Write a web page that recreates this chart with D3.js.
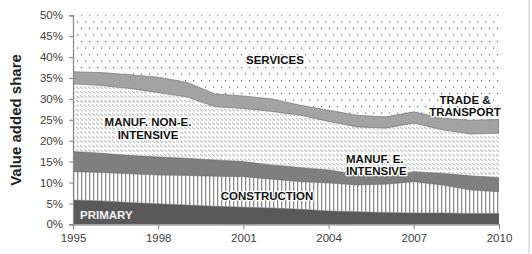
<!DOCTYPE html>
<html>
<head>
<meta charset="utf-8">
<script src="https://cdn.jsdelivr.net/npm/d3@7"></script>
<style>
  body { margin: 0; background: #fff; }
  svg { display: block; font-family: "Liberation Sans", Arial, sans-serif; }
</style>
</head>
<body>
<svg id="chart"></svg>
<script>
var width = 532;
var height = 254;

// value added shares (%)
var years = [1995, 1996, 1997, 1998, 1999, 2000, 2001, 2002, 2003, 2004, 2005, 2006, 2007, 2008, 2009, 2010];
var primary = [5.8, 5.6, 5.2, 4.9, 4.6, 4.3, 4.1, 3.9, 3.6, 3.2, 3.0, 2.8, 2.7, 2.7, 2.6, 2.6];
var construction = [6.8, 6.8, 6.9, 6.9, 7.1, 7.2, 7.3, 6.9, 6.6, 6.7, 6.4, 6.8, 7.5, 6.7, 5.6, 5.2];
var manufE = [4.8, 4.6, 4.4, 4.3, 4.1, 3.9, 3.6, 3.4, 3.4, 3.1, 2.6, 1.8, 2.4, 2.8, 3.4, 3.4];
var manufNonE = [16.2, 16.2, 16.0, 15.4, 14.7, 12.7, 12.7, 12.8, 12.5, 11.6, 11.3, 11.6, 11.6, 10.4, 10.0, 10.6];
var trade = [2.9, 3.1, 3.3, 3.7, 3.5, 3.1, 3.0, 3.0, 2.4, 2.7, 2.8, 2.7, 2.7, 2.8, 3.3, 3.3];
var services = [63.5, 63.7, 64.2, 64.8, 66.0, 68.8, 69.3, 70.0, 71.5, 72.7, 73.9, 74.3, 73.1, 74.6, 75.1, 74.9];

var keys = ["primary", "construction", "manufE", "manufNonE", "trade", "services"];
var yTicks = [0, 5, 10, 15, 20, 25, 30, 35, 40, 45, 50];
var xTicks = [1995, 1998, 2001, 2004, 2007, 2010];

var rows = years.map(function(y, i) {
  return {
    year: y,
    primary: primary[i],
    construction: construction[i],
    manufE: manufE[i],
    manufNonE: manufNonE[i],
    trade: trade[i],
    services: services[i]
  };
});

var svg = d3.select("#chart")
            .attr("width", width)
            .attr("height", height);

var plotLeft = 73, plotRight = 499, plotTop = 15.3, plotBottom = 224.3;

var x = d3.scaleLinear()
          .domain([1995, 2010])
          .range([plotLeft, plotRight]);

var y = d3.scaleLinear()
          .domain([0, 50])
          .range([plotBottom, plotTop]);

var defs = svg.append("defs");

defs.append("clipPath").attr("id", "plotclip")
  .append("rect")
  .attr("x", plotLeft).attr("y", plotTop)
  .attr("width", plotRight - plotLeft).attr("height", plotBottom - plotTop);

// dotted pattern for services
var dots = defs.append("pattern").attr("id", "dots")
  .attr("patternUnits", "userSpaceOnUse")
  .attr("width", 8).attr("height", 13);
dots.append("rect").attr("x", 1).attr("y", 2).attr("width", 1.2).attr("height", 1.2).attr("fill", "#666");
dots.append("rect").attr("x", 5).attr("y", 8.5).attr("width", 1.2).attr("height", 1.2).attr("fill", "#666");

// small diagonal dashes for manuf. non-e. intensive
var dash = defs.append("pattern").attr("id", "diag")
  .attr("patternUnits", "userSpaceOnUse")
  .attr("width", 4).attr("height", 4.5);
dash.append("path").attr("d", "M0,1 L3,3.5")
  .attr("stroke", "#ababab").attr("stroke-width", 1);

// vertical lines for construction
var vert = defs.append("pattern").attr("id", "vert")
  .attr("patternUnits", "userSpaceOnUse")
  .attr("width", 4).attr("height", 10);
vert.append("rect").attr("x", 1).attr("y", 0).attr("width", 1.3).attr("height", 10).attr("fill", "#8a8a8a");

var fills = {
  primary: "#595959",
  construction: "url(#vert)",
  manufE: "#7f7f7f",
  manufNonE: "url(#diag)",
  trade: "#a3a3a3",
  services: "url(#dots)"
};

var stack = d3.stack().keys(keys);
var series = stack(rows);

var area = d3.area()
  .x(function(d) { return x(d.data.year); })
  .y0(function(d) { return y(d[0]); })
  .y1(function(d) { return y(d[1]); });

var plot = svg.append("g").attr("clip-path", "url(#plotclip)");

plot.selectAll("path.band")
  .data(series)
  .enter()
  .append("path")
  .attr("class", "band")
  .attr("d", area)
  .attr("fill", function(d) { return fills[d.key]; })
  .attr("stroke", function(d) {
    return (d.key == "primary" || d.key == "manufE" || d.key == "trade") ? "#6a6a6a" : "none";
  })
  .attr("stroke-width", 0.6);

// axes
var yAxis = d3.axisLeft(y)
  .tickValues(yTicks)
  .tickSize(4)
  .tickFormat(function(d) { return d + "%"; });

var xAxis = d3.axisBottom(x)
  .tickValues(xTicks)
  .tickSize(5)
  .tickFormat(d3.format("d"));

var gy = svg.append("g")
  .attr("transform", "translate(" + plotLeft + ",0)")
  .call(yAxis);

var gx = svg.append("g")
  .attr("transform", "translate(0," + plotBottom + ")")
  .call(xAxis);

[gx, gy].forEach(function(g) {
  g.select(".domain").attr("stroke", "#868686").attr("stroke-width", 1.2);
  g.selectAll(".tick line").attr("stroke", "#868686");
  g.selectAll(".tick text")
    .attr("fill", "#404040")
    .style("font-size", "11.5px")
    .style("font-family", "Liberation Sans, Arial, sans-serif");
});
gy.selectAll(".tick text").attr("x", -10);
gx.selectAll(".tick text").attr("y", 10);

// y axis title
svg.append("text")
  .attr("transform", "translate(21,120) rotate(-90)")
  .attr("text-anchor", "middle")
  .attr("fill", "#222")
  .style("font-size", "15px")
  .style("font-weight", "bold")
  .text("Value added share");

// area labels
var labels = [
  { lines: ["SERVICES"], cx: 275, cy: 60, anchor: "middle", color: "#111" },
  { lines: ["MANUF. NON-E.", "INTENSIVE"], cx: 148, cy: 122, anchor: "middle", color: "#111" },
  { lines: ["MANUF. E.", "INTENSIVE"], cx: 346, cy: 158.5, anchor: "start", color: "#111" },
  { lines: ["TRADE &", "TRANSPORT"], cx: 465, cy: 99.5, anchor: "middle", color: "#111" },
  { lines: ["CONSTRUCTION"], cx: 267, cy: 196, anchor: "middle", color: "#111" },
  { lines: ["PRIMARY"], cx: 80, cy: 215, anchor: "start", color: "#f2f2f2" }
];

labels.forEach(function(l) {
  l.lines.forEach(function(t, i) {
    var txt = svg.append("text")
      .attr("x", l.cx)
      .attr("y", l.cy + i * 12.5)
      .attr("dy", "0.35em")
      .attr("text-anchor", l.anchor)
      .style("font-size", "11.5px")
      .style("font-weight", "bold")
      .text(t);
    if (l.color != "#f2f2f2") {
      txt.attr("fill", l.color)
        .attr("stroke", "#fff")
        .attr("stroke-width", 2.5)
        .attr("stroke-linejoin", "round")
        .attr("paint-order", "stroke");
    } else {
      txt.attr("fill", l.color);
    }
  });
});

// frame edge on the right
svg.append("line")
  .attr("x1", 529).attr("x2", 529)
  .attr("y1", 0).attr("y2", height)
  .attr("stroke", "#c8c8c8");
</script>
</body>
</html>
